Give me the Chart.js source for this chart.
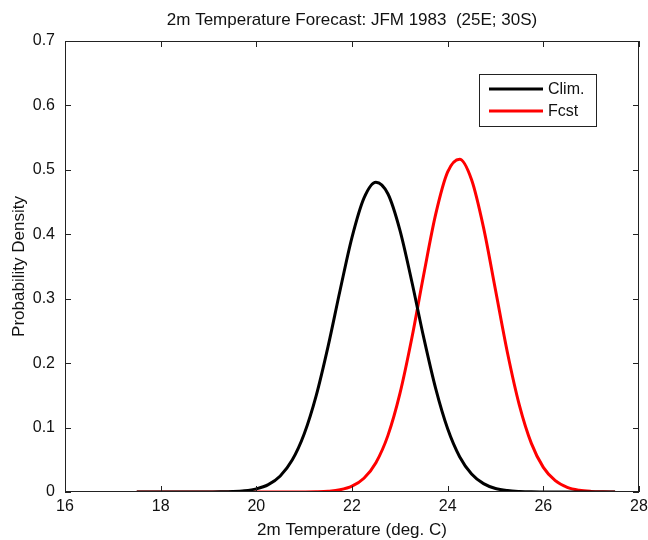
<!DOCTYPE html>
<html>
<head>
<meta charset="utf-8">
<script src="https://cdn.jsdelivr.net/npm/chart.js@4"></script>
<style>
  html, body { margin: 0; padding: 0; background: #fff; }
  #caixa { width: 648px; height: 540px; }
</style>
</head>
<body>
<div id="caixa"><canvas id="grafico"></canvas></div>
<script>
// temperaturas (eixo x) e densidades
const temperaturas = [17.5, 17.75, 18, 18.25, 18.5, 18.75, 19, 19.25, 19.5, 19.75,
    20, 20.25, 20.5, 20.75, 21, 21.25, 21.5, 21.75, 22, 22.25,
    22.5, 22.75, 23, 23.25, 23.5, 23.75, 24, 24.25, 24.5, 24.75,
    25, 25.25, 25.5, 25.75, 26, 26.25, 26.5, 26.75, 27, 27.25, 27.5];

const clim = [0, 0, 0, 0, 0, 0, 0.0001, 0.0002, 0.0006, 0.0018,
    0.0048, 0.0114, 0.0249, 0.0495, 0.0900, 0.1492, 0.2261, 0.3128, 0.3953, 0.4562,
    0.4809, 0.4629, 0.4069, 0.3267, 0.2395, 0.1604, 0.0981, 0.0548, 0.0280, 0.0130,
    0.0055, 0.0022, 0.0008, 0.0002, 0.0001, 0, 0, 0, 0, 0, 0];

const fcst = [0, 0, 0, 0, 0, 0, 0, 0, 0, 0,
    0, 0, 0, 0, 0.0001, 0.0004, 0.0012, 0.0034, 0.0090, 0.0213,
    0.0455, 0.0875, 0.1522, 0.2386, 0.3377, 0.4312, 0.4968, 0.5166, 0.4847, 0.4104,
    0.3136, 0.2162, 0.1345, 0.0755, 0.0383, 0.0175, 0.0072, 0.0027, 0.0009, 0.0003, 0.0001];

const ticksX = [16, 18, 20, 22, 24, 26, 28];
const ticksY = [0, 0.1, 0.2, 0.3, 0.4, 0.5, 0.6, 0.7];

const titulo = "2m Temperature Forecast: JFM 1983  (25E; 30S)";
const fonte = "Arial, 'Liberation Sans', sans-serif";

function pontos(ys) {
    return temperaturas.map((t, i) => ({ x: t, y: ys[i] }));
}

// caixa dos eixos, marcas para dentro, titulo e legenda (estilo matlab)
const estiloMatlab = {
    id: "estiloMatlab",
    afterDraw(chart) {
        const ctx = chart.ctx;
        const a = chart.chartArea;
        const sx = chart.scales.x;
        const sy = chart.scales.y;
        const tam = 6;

        ctx.save();
        ctx.strokeStyle = "#222";
        ctx.lineWidth = 1;
        ctx.strokeRect(a.left + 0.5, a.top + 0.5, a.right - a.left - 1, a.bottom - a.top - 1);

        ctx.beginPath();
        ticksX.forEach(v => {
            const px = Math.round(sx.getPixelForValue(v)) + 0.5;
            ctx.moveTo(px, a.bottom); ctx.lineTo(px, a.bottom - tam);
            ctx.moveTo(px, a.top); ctx.lineTo(px, a.top + tam);
        });
        ticksY.forEach(v => {
            const py = Math.round(sy.getPixelForValue(v)) + 0.5;
            ctx.moveTo(a.left, py); ctx.lineTo(a.left + tam, py);
            ctx.moveTo(a.right, py); ctx.lineTo(a.right - tam, py);
        });
        ctx.stroke();

        // titulo
        ctx.fillStyle = "#111";
        ctx.font = "17px " + fonte;
        ctx.textAlign = "center";
        ctx.textBaseline = "middle";
        ctx.fillText(titulo, (a.left + a.right) / 2, 20);

        // legenda
        const lx = 479, ly = 74, lw = 117, lh = 52;
        ctx.fillStyle = "#fff";
        ctx.fillRect(lx, ly, lw, lh);
        ctx.strokeStyle = "#222";
        ctx.strokeRect(lx + 0.5, ly + 0.5, lw, lh);
        ctx.font = "16px " + fonte;
        ctx.textAlign = "left";
        chart.data.datasets.forEach((ds, i) => {
            const y = ly + 15 + i * 22;
            ctx.strokeStyle = ds.borderColor;
            ctx.lineWidth = 3;
            ctx.beginPath();
            ctx.moveTo(lx + 10, y); ctx.lineTo(lx + 64, y);
            ctx.stroke();
            ctx.fillStyle = "#111";
            ctx.fillText(ds.label, lx + 69, y + 1);
        });
        ctx.restore();
    }
};

new Chart(document.getElementById("grafico"), {
    type: "line",
    data: {
        datasets: [{
            label: "Clim.",
            data: pontos(clim),
            borderColor: "#000000",
            borderWidth: 3,
            pointRadius: 0,
            cubicInterpolationMode: "monotone"
        }, {
            label: "Fcst",
            data: pontos(fcst),
            borderColor: "#ff0000",
            borderWidth: 3,
            pointRadius: 0,
            cubicInterpolationMode: "monotone"
        }]
    },
    options: {
        responsive: true,
        maintainAspectRatio: false,
        animation: false,
        layout: { padding: { top: 41, right: 9, left: 0, bottom: 0 } },
        plugins: {
            legend: { display: false },
            title: { display: false },
            tooltip: { enabled: false }
        },
        scales: {
            x: {
                type: "linear",
                min: 16,
                max: 28,
                afterBuildTicks: s => { s.ticks = ticksX.map(v => ({ value: v })); },
                afterFit: s => { s.height = 48; s.paddingLeft = 0; s.paddingRight = 0; },
                grid: { display: false, drawTicks: false },
                border: { display: false },
                ticks: { padding: 5, color: "#111", font: { size: 16, family: fonte }, maxRotation: 0 },
                title: {
                    display: true,
                    text: "2m Temperature (deg. C)",
                    color: "#111",
                    font: { size: 17, family: fonte },
                    padding: { top: 0, bottom: -1 }
                }
            },
            y: {
                min: 0,
                max: 0.7,
                afterBuildTicks: s => { s.ticks = ticksY.map(v => ({ value: v })); },
                afterFit: s => { s.width = 65; s.paddingTop = 0; s.paddingBottom = 0; },
                grid: { display: false, drawTicks: false },
                border: { display: false },
                ticks: { padding: 10, color: "#111", font: { size: 16, family: fonte } },
                title: {
                    display: true,
                    text: "Probability Density",
                    color: "#111",
                    font: { size: 17, family: fonte },
                    padding: { top: 9, bottom: 0 }
                }
            }
        }
    },
    plugins: [estiloMatlab]
});
</script>
</body>
</html>
